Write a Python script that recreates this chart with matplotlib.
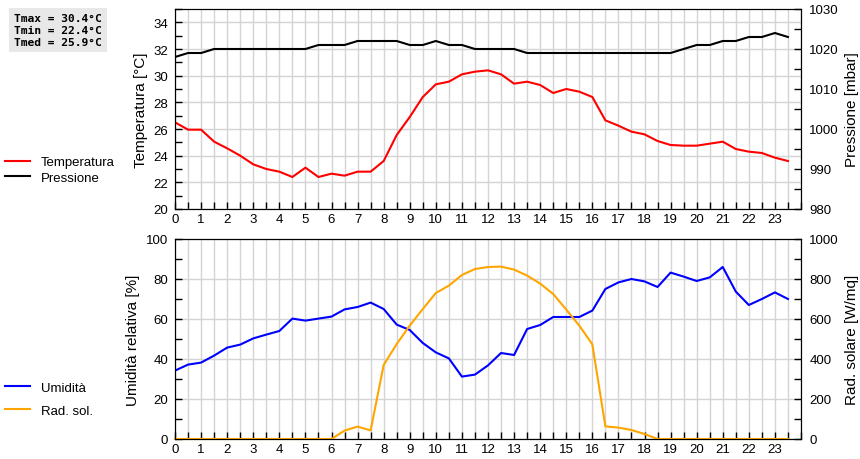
import numpy as np
import matplotlib.pyplot as plt
from matplotlib.ticker import MultipleLocator

plt.rcParams['font.family'] = ['Liberation Sans', 'DejaVu Sans']

# Half-hourly readings, 00:00 .. 23:30
ore = np.arange(0, 24, 0.5)

temperatura = [26.5, 25.95, 25.95, 25.05, 24.55, 24.0, 23.35, 23.0, 22.8, 22.4,
               23.1, 22.4, 22.65, 22.5, 22.8, 22.8, 23.6, 25.55, 26.9, 28.4,
               29.35, 29.55, 30.1, 30.3, 30.4, 30.1, 29.4, 29.55, 29.3, 28.7,
               29.0, 28.8, 28.4, 26.65, 26.25, 25.8, 25.6, 25.1, 24.8, 24.75,
               24.75, 24.9, 25.05, 24.5, 24.3, 24.2, 23.85, 23.6]

pressione = [1018, 1019, 1019, 1020, 1020, 1020, 1020, 1020, 1020, 1020,
             1020, 1021, 1021, 1021, 1022, 1022, 1022, 1022, 1021, 1021,
             1022, 1021, 1021, 1020, 1020, 1020, 1020, 1019, 1019, 1019,
             1019, 1019, 1019, 1019, 1019, 1019, 1019, 1019, 1019, 1020,
             1021, 1021, 1022, 1022, 1023, 1023, 1024, 1023]

umidita = [34.2, 37.2, 38.2, 41.7, 45.7, 47.2, 50.3, 52.2, 54.0, 60.2,
           59.2, 60.2, 61.2, 64.8, 66.0, 68.2, 65.0, 57.2, 54.5, 48.0,
           43.3, 40.3, 31.2, 32.2, 36.8, 43.0, 42.0, 55.0, 57.0, 61.0,
           61.0, 61.0, 64.2, 75.0, 78.3, 80.0, 78.8, 76.0, 83.2, 81.2,
           79.0, 80.8, 86.0, 73.7, 67.0, 70.0, 73.3, 70.0]

radiazione = [0, 0, 0, 0, 0, 0, 0, 0, 0, 0,
              0, 0, 0, 42, 62, 43, 370, 475, 567, 650,
              730, 767, 820, 850, 860, 862, 847, 817, 777, 725,
              647, 567, 473, 63, 57, 45, 25, 0, 0, 0,
              0, 0, 0, 0, 0, 0, 0, 0]

t_max, t_min, t_med = 30.4, 22.4, 25.9

grid_col = '#d4d4d4'
fs_tick = 9.5
fs_lab = 11

fig = plt.figure(figsize=(8.6, 4.6), dpi=100)
ax1 = fig.add_axes([175 / 860, 1 - 210 / 460, 626 / 860, 200 / 460])
ax3 = fig.add_axes([175 / 860, 1 - 440 / 460, 626 / 860, 200 / 460])
ax2 = ax1.twinx()
ax4 = ax3.twinx()

l_t, = ax1.plot(ore, temperatura, color='#ff0000', lw=1.5, label='Temperatura')
l_p, = ax2.plot(ore, pressione, color='black', lw=1.5, label='Pressione')
l_u, = ax3.plot(ore, umidita, color='#0000ff', lw=1.5, label='Umidità', zorder=3)
l_r, = ax4.plot(ore, radiazione, color='#ffa500', lw=1.5, label='Rad. sol.', clip_on=False)

ax1.set_ylim(20, 35)
ax1.yaxis.set_major_locator(MultipleLocator(2))
ax1.yaxis.set_minor_locator(MultipleLocator(1))
ax2.set_ylim(980, 1030)
ax2.yaxis.set_major_locator(MultipleLocator(10))
ax2.yaxis.set_minor_locator(MultipleLocator(5))
ax3.set_ylim(0, 100)
ax3.yaxis.set_major_locator(MultipleLocator(20))
ax3.yaxis.set_minor_locator(MultipleLocator(10))
ax4.set_ylim(0, 1000)
ax4.yaxis.set_major_locator(MultipleLocator(200))
ax4.yaxis.set_minor_locator(MultipleLocator(100))

for ax in (ax1, ax3):
    ax.set_xlim(0, 24)
    ax.set_xticks(range(0, 24))
    ax.xaxis.set_minor_locator(MultipleLocator(0.5))
    ax.grid(True, which='both', axis='x', color=grid_col, lw=1)
    ax.grid(True, which='major', axis='y', color=grid_col, lw=1)
    ax.set_axisbelow(True)
    ax.tick_params(axis='x', which='both', direction='in', length=5, width=1,
                   labelsize=fs_tick, pad=3)
    ax.tick_params(axis='y', which='both', direction='in', length=5, width=1,
                   labelsize=fs_tick, pad=5)

for ax in (ax2, ax4):
    ax.tick_params(axis='y', which='both', direction='in', length=5, width=1,
                   labelsize=fs_tick, pad=6)

ax1.set_ylabel('Temperatura [°C]', fontsize=fs_lab, labelpad=4)
ax2.set_ylabel('Pressione [mbar]', fontsize=fs_lab, labelpad=4)
ax3.set_ylabel('Umidità relativa [%]', fontsize=fs_lab, labelpad=4)
ax4.set_ylabel('Rad. solare [W/mq]', fontsize=fs_lab, labelpad=4)

fig.legend([l_t, l_p], ['Temperatura', 'Pressione'], loc='center left',
           bbox_to_anchor=(5 / 860, 1 - 171 / 460), frameon=False, fontsize=fs_tick,
           handlelength=1.9, handletextpad=0.8, labelspacing=0.25,
           borderpad=0, borderaxespad=0)
fig.legend([l_u, l_r], ['Umidità', 'Rad. sol.'], loc='center left',
           bbox_to_anchor=(5 / 860, 1 - 400 / 460), frameon=False, fontsize=fs_tick,
           handlelength=1.9, handletextpad=0.8, labelspacing=0.8,
           borderpad=0, borderaxespad=0)

info = f'Tmax = {t_max:.1f}°C\nTmin = {t_min:.1f}°C\nTmed = {t_med:.1f}°C'
fig.text(14 / 860, 1 - 31 / 460, info, family='DejaVu Sans Mono', weight='bold',
         fontsize=8.1, va='center', ha='left', linespacing=1.2,
         bbox=dict(facecolor='#e8e8e8', edgecolor='none', boxstyle='square,pad=0.45'))

fig.savefig('out.png', dpi=100)
